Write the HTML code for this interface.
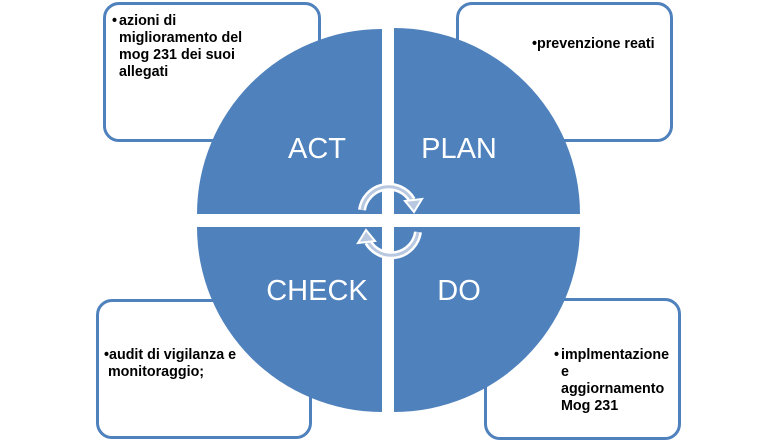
<!DOCTYPE html>
<html><head><meta charset="utf-8"><style>
body{margin:0;background:#fff;}
.w{position:relative;width:778px;height:442px;overflow:hidden;font-family:"Liberation Sans",sans-serif;}
.b{position:absolute;border:3.5px solid #4f81bd;border-radius:16px;box-sizing:border-box;background:#fff;}
.t{position:absolute;font-weight:bold;font-size:14.3px;line-height:17px;color:#000;}
svg{position:absolute;left:0;top:0;}
</style></head><body><div class="w">
<div class="b" style="left:103px;top:2px;width:218px;height:140px"></div>
<div class="b" style="left:456px;top:2px;width:217px;height:140px"></div>
<div class="b" style="left:96px;top:299px;width:216px;height:140px"></div>
<div class="b" style="left:484px;top:298px;width:197px;height:142px"></div>
<div class="t" style="left:112px;top:13px;width:150px"><span style="position:absolute;left:0">•</span><div style="padding-left:7px">azioni di<br>miglioramento del<br>mog 231 dei suoi<br>allegati</div></div>
<div class="t" style="left:532px;top:36px">•prevenzione reati</div>
<div class="t" style="left:104px;top:347px">•audit di vigilanza e<br>&nbsp;monitoraggio;</div>
<div class="t" style="left:554px;top:347px"><span style="position:absolute;left:0">•</span><div style="padding-left:7px">implmentazione<br>e<br>aggiornamento<br>Mog 231</div></div>
<svg width="778" height="442">
<g fill="#4f81bd">
<path d="M382 214 L197 214 A185 185 0 0 1 382 29 Z"/>
<path d="M394 214 L394 28 A186 186 0 0 1 580 214 Z"/>
<path d="M382 227 L382 412 A185 185 0 0 1 197 227 Z"/>
<path d="M394 227 L580 227 A186 186 0 0 1 394 412 Z"/>
</g>
<g fill="#fff" font-size="29" text-anchor="middle" font-family="Liberation Sans,sans-serif">
<text x="317" y="158">ACT</text><text x="459" y="158">PLAN</text>
<text x="317" y="300">CHECK</text><text x="459" y="300">DO</text>
</g>
<g fill="none" stroke-linecap="butt">
<path d="M362 210 A27 27 0 0 1 412 200" stroke="#fff" stroke-width="8"/>
<path d="M362 210 A27 27 0 0 1 412 200" stroke="#b8c8e0" stroke-width="3"/>
<path d="M418 232 A27 27 0 0 1 368 242" stroke="#fff" stroke-width="8"/>
<path d="M418 232 A27 27 0 0 1 368 242" stroke="#b8c8e0" stroke-width="3"/>
</g>
<polygon points="405,201 422,199 414,212" fill="#b8c8e0" stroke="#fff" stroke-width="2"/>
<polygon points="375,241 358,243 366,230" fill="#b8c8e0" stroke="#fff" stroke-width="2"/>
</svg>
</div></body></html>
